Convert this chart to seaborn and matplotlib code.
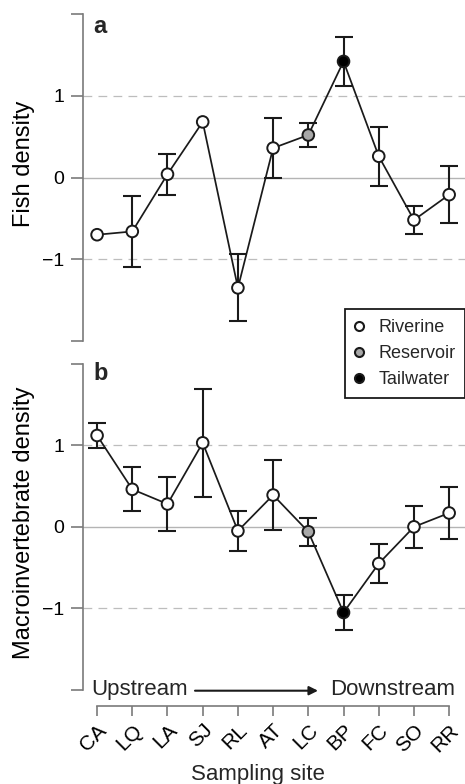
import numpy as np
import pandas as pd
import matplotlib
matplotlib.use("Agg")
import matplotlib.pyplot as plt
from matplotlib.lines import Line2D
import seaborn as sns

# ---------------- data ----------------
sites = ["CA", "LQ", "LA", "SJ", "RL", "AT", "LC", "BP", "FC", "SO", "RR"]
habitat = ["Riverine", "Riverine", "Riverine", "Riverine", "Riverine", "Riverine",
           "Reservoir", "Tailwater", "Riverine", "Riverine", "Riverine"]
fish_mean = [-0.70, -0.66, 0.04, 0.68, -1.35, 0.36, 0.52, 1.42, 0.26, -0.52, -0.21]
fish_se = [np.nan, 0.43, 0.25, np.nan, 0.41, 0.37, 0.15, 0.30, 0.36, 0.17, 0.35]
macro_mean = [1.12, 0.46, 0.28, 1.03, -0.05, 0.39, -0.06, -1.05, -0.45, 0.00, 0.17]
macro_se = [0.15, 0.27, 0.33, 0.66, 0.24, 0.43, 0.17, 0.22, 0.24, 0.26, 0.32]
legend_labels = ["Riverine", "Reservoir", "Tailwater"]
y_ticks = [-2, -1, 0, 1, 2]
y_ticklabels = ["", "\u22121", "0", "1", ""]

# ---------------- style ----------------
sns.set_style("white")
plt.rcParams["font.family"] = ["Liberation Sans", "DejaVu Sans"]
palette = {"Riverine": "white", "Reservoir": "#a8a8a8", "Tailwater": "black"}
spine_col = "#7a7a7a"

df = pd.DataFrame({"pos": np.arange(len(sites)), "site": sites, "habitat": habitat,
                   "fish": fish_mean, "fish_se": fish_se,
                   "macro": macro_mean, "macro_se": macro_se})

W, H = 465, 784
fig = plt.figure(figsize=(W / 100, H / 100), dpi=100)

def fx(px):
    return px / W

def fy(py):
    return (H - py) / H

ax1 = fig.add_axes([fx(83), fy(341), fx(465) - fx(83), fy(14) - fy(341)])
ax2 = fig.add_axes([fx(83), fy(690), fx(465) - fx(83), fy(363.7) - fy(690)])

def draw_panel(ax, col, secol, ylabel, ylab_y):
    ax.set_facecolor("none")
    ax.axhline(0, color="#b4b4b4", lw=1.0, zorder=1)
    for v in (-1, 1):
        ax.axhline(v, color="#bdbdbd", lw=0.9, ls=(0, (7, 5)), zorder=1)
    sns.lineplot(data=df, x="pos", y=col, color="#1a1a1a", lw=1.25, sort=False,
                 estimator=None, ax=ax, zorder=2)
    m = df[secol].notna()
    ax.errorbar(df.loc[m, "pos"], df.loc[m, col], yerr=df.loc[m, secol], fmt="none",
                ecolor="#1a1a1a", elinewidth=1.5, capsize=6.5, capthick=1.5, zorder=3)
    sns.scatterplot(data=df, x="pos", y=col, hue="habitat", palette=palette,
                    edgecolor="#1a1a1a", linewidth=1.4, s=70, legend=False,
                    ax=ax, zorder=4)
    ax.set_xlim(-0.40, 10.45)
    ax.set_ylim(-2, 2)
    for s in ("top", "right"):
        ax.spines[s].set_visible(False)
    ax.spines["left"].set_color(spine_col)
    ax.spines["left"].set_linewidth(1.2)
    ax.spines["left"].set_bounds(-2, 2)
    ax.set_yticks(y_ticks)
    ax.set_yticklabels(y_ticklabels)
    ax.tick_params(axis="y", direction="out", length=8.5, width=1.2, color=spine_col,
                   labelsize=14, labelcolor="black", pad=5, left=True)
    ax.set_ylabel(ylabel, fontsize=17, color="black")
    ax.yaxis.set_label_coords(-0.125, ylab_y)
    ax.set_xlabel("")

draw_panel(ax1, "fish", "fish_se", "Fish density", 0.541)
draw_panel(ax2, "macro", "macro_se", "Macroinvertebrate density", 0.513)

# top panel: no x axis
ax1.spines["bottom"].set_visible(False)
ax1.set_xticks([])

# bottom panel: R-like detached x axis
ax2.spines["bottom"].set_position(("outward", 11.5))
ax2.spines["bottom"].set_bounds(0, 10)
ax2.spines["bottom"].set_color(spine_col)
ax2.spines["bottom"].set_linewidth(1.2)
ax2.set_xticks(df["pos"])
ax2.set_xticklabels(sites, rotation=45, ha="right", va="top", rotation_mode="anchor")
ax2.tick_params(axis="x", direction="out", length=7.5, width=1.2, color=spine_col,
                labelsize=15, labelcolor="black", pad=3, bottom=True)

# panel letters
fig.text(fx(93), fy(33.3), "a", fontsize=17, fontweight="bold", ha="left", va="baseline")
fig.text(fx(93), fy(380), "b", fontsize=17, fontweight="bold", ha="left", va="baseline")

# upstream / downstream
fig.text(fx(91), fy(695), "Upstream", fontsize=16, ha="left", va="baseline")
fig.text(fx(455), fy(695), "Downstream", fontsize=16, ha="right", va="baseline")
fig.add_artist(matplotlib.patches.FancyArrowPatch(
    (fx(195), fy(690.7)), (fx(318), fy(690.7)), transform=fig.transFigure,
    arrowstyle="-|>", mutation_scale=13, lw=1.5, color="#1a1a1a",
    shrinkA=0, shrinkB=0))

# x label
fig.text(fx(257.5), fy(780), "Sampling site", fontsize=16, ha="center", va="baseline")

# legend
handles = [Line2D([], [], ls="none", marker="o", ms=6.5, mfc=palette[k],
                  mec="#1a1a1a", mew=1.5, label=k) for k in legend_labels]
leg = fig.legend(handles=handles, loc="upper left",
                 bbox_to_anchor=(fx(345), fy(309.3)), bbox_transform=fig.transFigure,
                 frameon=True, fancybox=False, shadow=False, framealpha=1,
                 fontsize=13, borderpad=0.55, handlelength=0.5, handleheight=0.7,
                 handletextpad=0.8, labelspacing=0.5, borderaxespad=0)
leg.get_frame().set_edgecolor("#1a1a1a")
leg.get_frame().set_linewidth(1.3)

fig.savefig("out.png", dpi=100)
